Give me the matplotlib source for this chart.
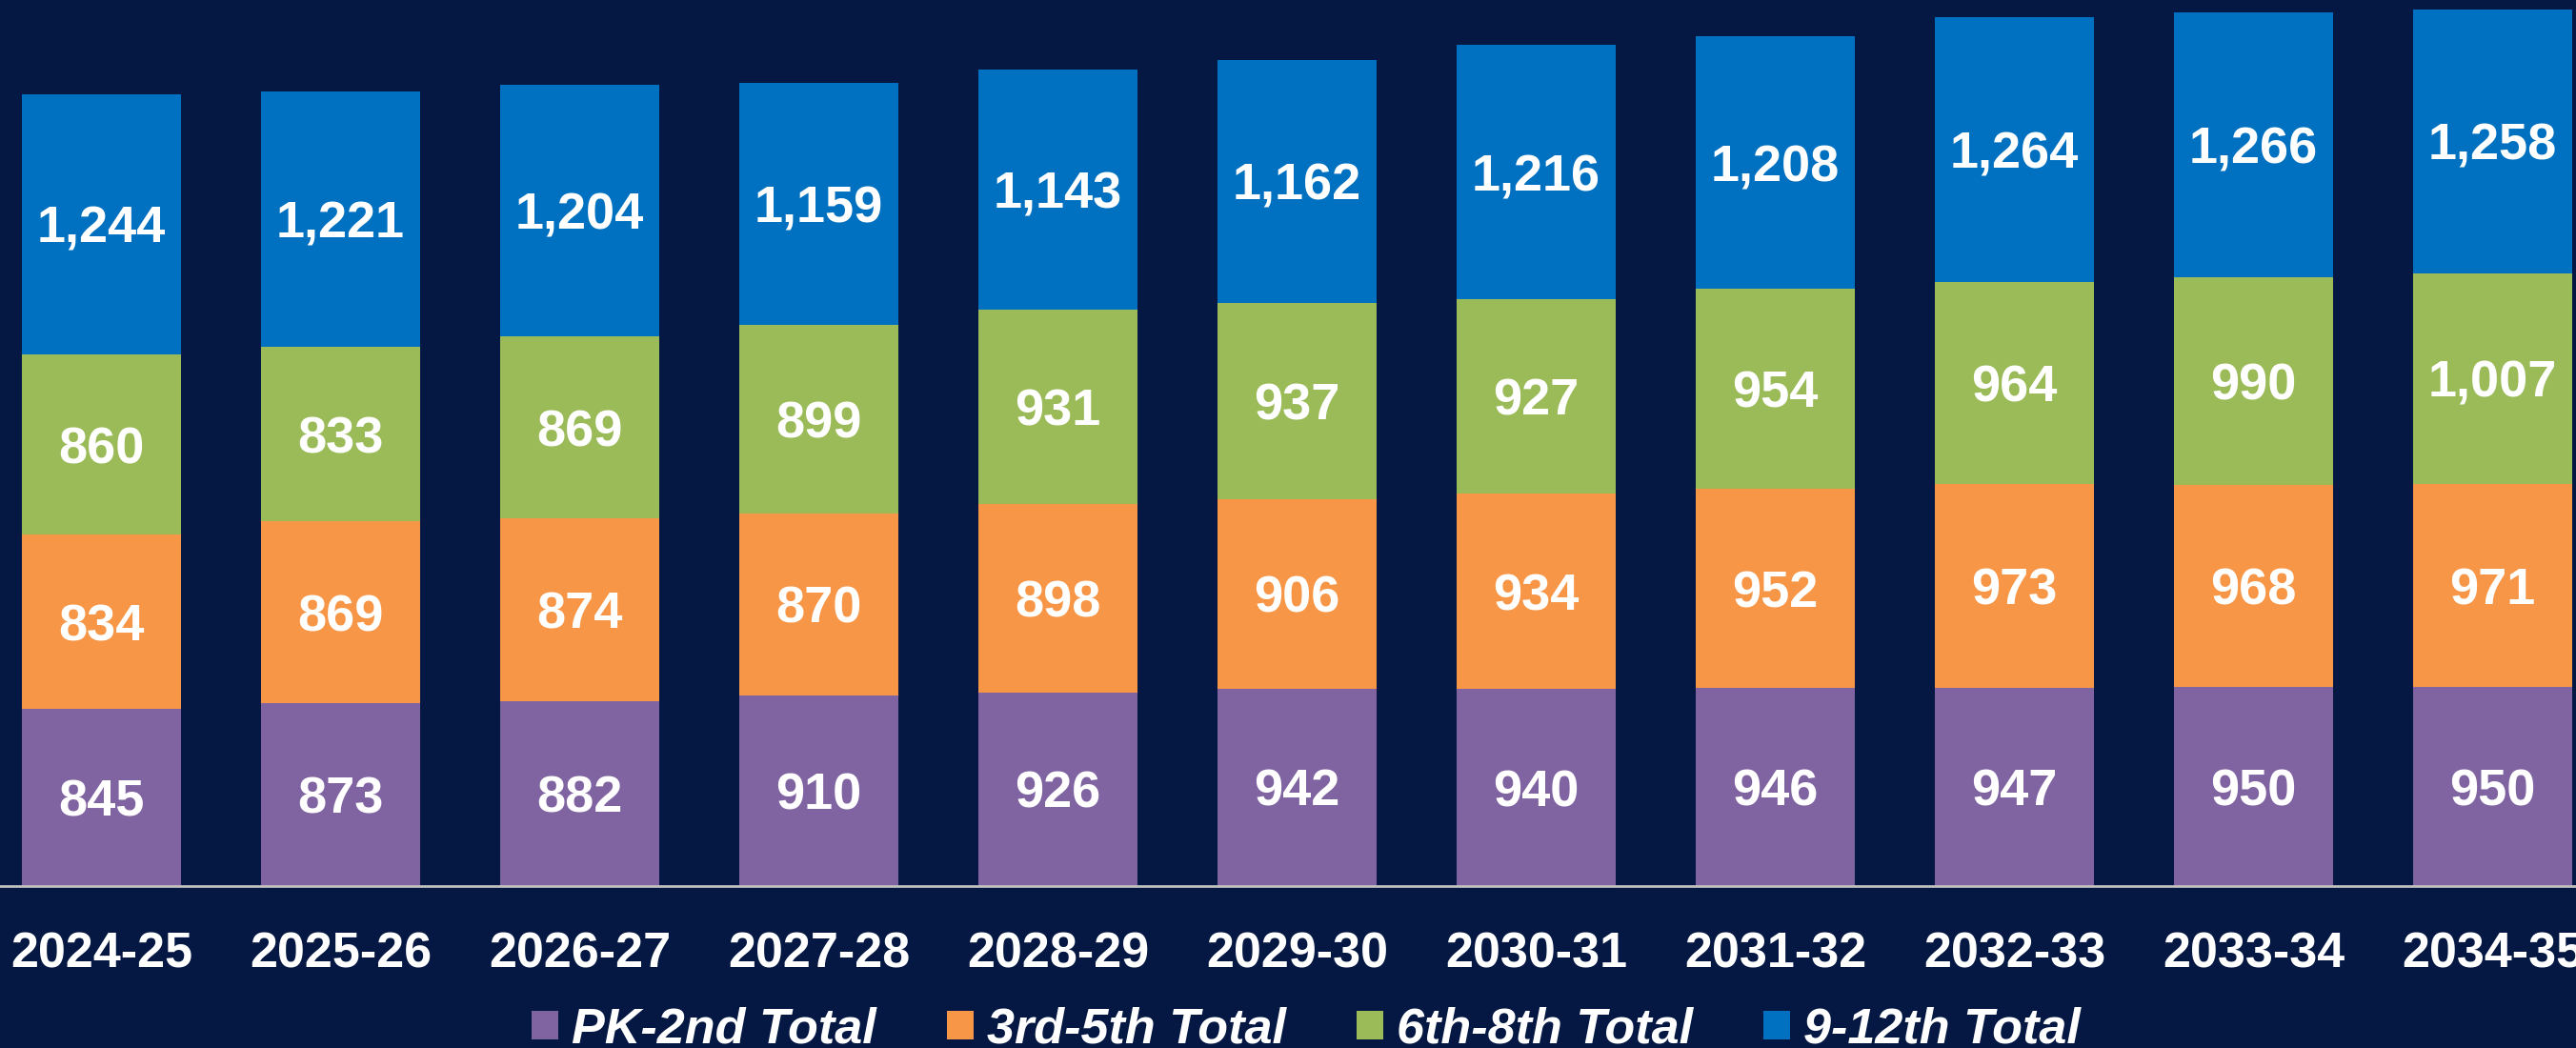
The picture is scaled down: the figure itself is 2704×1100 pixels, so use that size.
import matplotlib.pyplot as plt
import numpy as np

# School years and enrollment per grade band
years = ["2024-25", "2025-26", "2026-27", "2027-28", "2028-29", "2029-30",
         "2030-31", "2031-32", "2032-33", "2033-34", "2034-35"]
pk_2nd = [845, 873, 882, 910, 926, 942, 940, 946, 947, 950, 950]
g3_5 = [834, 869, 874, 870, 898, 906, 934, 952, 973, 968, 971]
g6_8 = [860, 833, 869, 899, 931, 937, 927, 954, 964, 990, 1007]
g9_12 = [1244, 1221, 1204, 1159, 1143, 1162, 1216, 1208, 1264, 1266, 1258]

series = [
    ("PK-2nd Total", pk_2nd, "#8064A2"),
    ("3rd-5th Total", g3_5, "#F79646"),
    ("6th-8th Total", g6_8, "#9BBB59"),
    ("9-12th Total", g9_12, "#0070C0"),
]

BG = "#041843"
plt.rcParams["font.family"] = ["Liberation Sans", "DejaVu Sans"]

fig = plt.figure(figsize=(27.04, 11), dpi=100, facecolor=BG)
ax = fig.add_axes([0, 170 / 1100, 1, 930 / 1100])
ax.set_facecolor(BG)

x = np.arange(len(years))
bottom = np.zeros(len(years))
for name, vals, color in series:
    ax.bar(x, vals, width=0.665, bottom=bottom, color=color, label=name)
    for xi, b, v in zip(x, bottom, vals):
        ax.text(xi, b + v / 2, f"{v:,}", ha="center", va="center_baseline",
                color="white", fontsize=39, fontweight="bold")
    bottom += np.array(vals)

ax.set_xlim(-0.4243, 10.349)
ax.set_ylim(0, 4232)

for s in ["top", "right", "left"]:
    ax.spines[s].set_visible(False)
ax.spines["bottom"].set_color("#BFBFBF")
ax.spines["bottom"].set_linewidth(2)
ax.set_yticks([])
ax.set_xticks(x)
ax.set_xticklabels(years, color="white", fontsize=37.5, fontweight="bold")
ax.tick_params(axis="x", length=0, pad=34)

leg = fig.legend(loc="center", bbox_to_anchor=(0.507, 19 / 1100), ncol=4,
                 frameon=False, handlelength=0.54, handleheight=0.52,
                 handletextpad=0.27, columnspacing=1.42,
                 prop={"size": 37.5, "weight": "bold", "style": "italic"})
for t in leg.get_texts():
    t.set_color("white")

plt.savefig("out.png", dpi=100, facecolor=BG)
